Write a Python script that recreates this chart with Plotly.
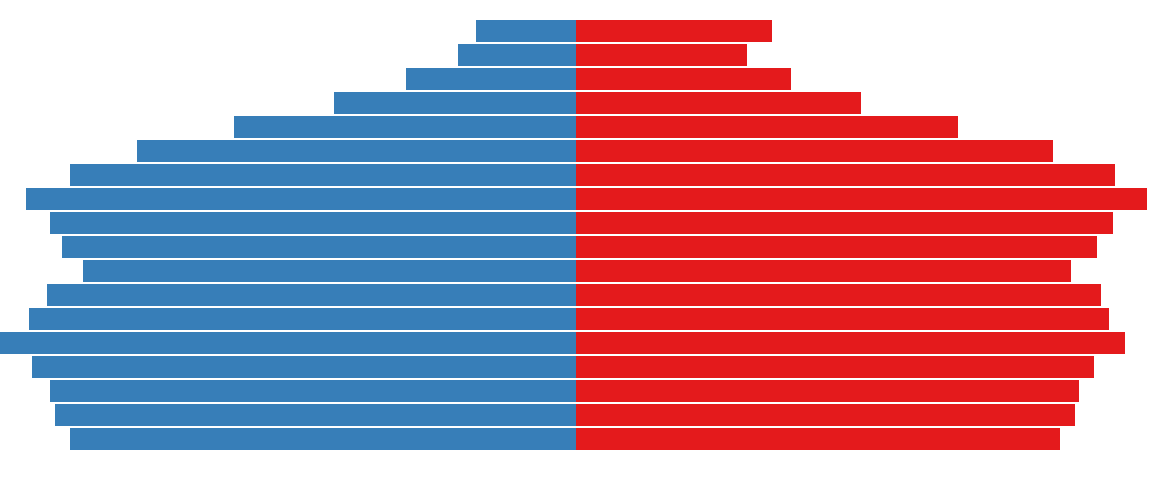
import plotly.graph_objects as go

age_groups = ["0-4", "5-9", "10-14", "15-19", "20-24", "25-29", "30-34", "35-39",
              "40-44", "45-49", "50-54", "55-59", "60-64", "65-69", "70-74",
              "75-79", "80-84", "85+"]
male = [506, 521, 526, 544, 576, 547, 529, 493, 514, 526, 550, 506, 439, 342,
        242, 170, 118, 100]
female = [484, 499, 503, 518, 549, 533, 525, 495, 521, 537, 571, 539, 477, 382,
          285, 215, 171, 196]

xmax = max(max(male), max(female))

fig = go.Figure()
fig.add_trace(go.Bar(y=age_groups, x=[-v for v in male], orientation="h",
                     name="Male", marker=dict(color="#377eb8", line=dict(width=0))))
fig.add_trace(go.Bar(y=age_groups, x=female, orientation="h",
                     name="Female", marker=dict(color="#e41a1c", line=dict(width=0))))

fig.update_layout(
    width=1152, height=480,
    barmode="relative", bargap=2/24,
    margin=dict(l=0, r=0, t=19, b=29),
    plot_bgcolor="white", paper_bgcolor="white",
    showlegend=False,
    xaxis=dict(range=[-xmax, xmax], visible=False, fixedrange=True),
    yaxis=dict(range=[-0.5, len(age_groups) - 0.5], visible=False, fixedrange=True),
)
fig.write_html("out.html", config={"displayModeBar": False},
               post_script="document.body.style.margin='0';document.body.style.overflow='hidden';")
